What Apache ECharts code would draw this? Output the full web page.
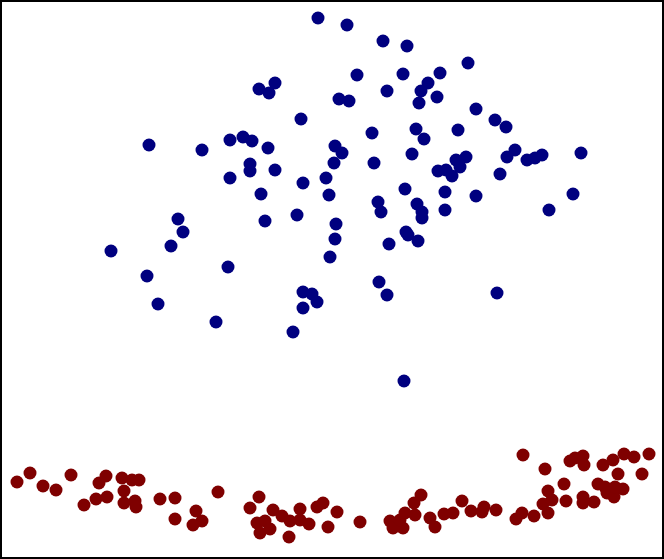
<!DOCTYPE html>
<html>
<head>
<meta charset="utf-8">
<title>scatter</title>
<script src="https://cdn.jsdelivr.net/npm/echarts@6/dist/echarts.min.js"></script>
<style>
    html, body { margin: 0; padding: 0; background: #fff; }
    #chart { width: 664px; height: 559px; }
</style>
</head>
<body>
<div id="chart"></div>
<script type="text/javascript">
// upper cluster (class 0)
var blueX = [318, 347, 383, 407, 468, 357, 403, 440, 275, 259, 269, 387, 428, 421, 437, 419, 339, 349, 476, 301,
    495, 506, 416, 372, 458, 149, 230, 243, 252, 268, 202, 335, 342, 424, 412, 515, 507, 527, 535, 542,
    581, 466, 456, 460, 438, 446, 452, 250, 250, 275, 334, 374, 500, 230, 326, 303, 405, 445, 261, 329,
    476, 573, 378, 417, 549, 381, 422, 422, 445, 178, 265, 297, 336, 183, 406, 408, 418, 389, 335, 111,
    171, 330, 228, 147, 379, 387, 303, 312, 317, 303, 497, 158, 216, 293, 404];
var blueY = [541, 534, 518, 513, 496, 484, 485, 486, 476, 470, 466, 468, 476, 468, 462, 456, 460, 458, 450, 440,
    439, 432, 430, 426, 429, 414, 419, 422, 418, 411, 409, 413, 406, 420, 405, 409, 402, 399, 401, 404,
    406, 402, 399, 392, 388, 389, 383, 395, 388, 389, 396, 396, 385, 381, 381, 376, 370, 367, 365, 364,
    363, 365, 357, 355, 349, 347, 347, 341, 349, 340, 338, 344, 335, 327, 327, 324, 318, 315, 320, 308,
    313, 302, 292, 283, 277, 264, 267, 265, 257, 251, 266, 255, 237, 227, 178];

// lower band (class 1)
var redX = [17, 30, 43, 56, 71, 84, 96, 99, 106, 107, 122, 132, 139, 124, 124, 135, 136, 160, 175, 175,
    196, 202, 193, 218, 250, 259, 257, 265, 260, 270, 273, 282, 290, 300, 300, 309, 289, 317, 323, 337,
    328, 360, 390, 393, 403, 400, 405, 415, 414, 421, 430, 435, 444, 453, 462, 471, 482, 484, 496, 523,
    516, 522, 534, 548, 543, 552, 548, 545, 566, 564, 570, 575, 583, 584, 583, 583, 594, 598, 603, 613,
    618, 605, 607, 614, 623, 615, 624, 634, 642, 649];
var redY = [77, 86, 73, 69, 84, 54, 60, 76, 83, 62, 81, 79, 79, 68, 56, 58, 52, 60, 61, 40,
    48, 38, 34, 67, 51, 62, 36, 38, 26, 30, 49, 43, 38, 50, 39, 35, 22, 52, 56, 47,
    32, 37, 38, 31, 31, 39, 46, 44, 56, 64, 41, 32, 45, 46, 58, 48, 47, 52, 49, 104,
    40, 46, 43, 46, 55, 59, 68, 90, 58, 75, 98, 101, 103, 94, 62, 56, 57, 75, 94, 99,
    85, 72, 66, 62, 70, 72, 105, 102, 85, 105];

function pairs(xs, ys) {
    var out = [];
    for (var i = 0; i < xs.length; i++) {
        out.push([xs[i], ys[i]]);
    }
    return out;
}

var chart = echarts.init(document.getElementById('chart'));

chart.setOption({
    animation: false,
    grid: {
        left: 1, right: 1, top: 1, bottom: 1,
        show: true,
        borderColor: '#000',
        borderWidth: 2,
        backgroundColor: '#fff'
    },
    xAxis: {
        type: 'value', min: 1, max: 663,
        axisLine: { show: false }, axisTick: { show: false },
        axisLabel: { show: false }, splitLine: { show: false }
    },
    yAxis: {
        type: 'value', min: 1, max: 558,
        axisLine: { show: false }, axisTick: { show: false },
        axisLabel: { show: false }, splitLine: { show: false }
    },
    series: [
        {
            type: 'scatter',
            symbolSize: 13,
            itemStyle: { color: '#00007f', opacity: 1 },
            data: pairs(blueX, blueY)
        },
        {
            type: 'scatter',
            symbolSize: 13,
            itemStyle: { color: '#7f0000', opacity: 1 },
            data: pairs(redX, redY)
        }
    ]
});
</script>
</body>
</html>
